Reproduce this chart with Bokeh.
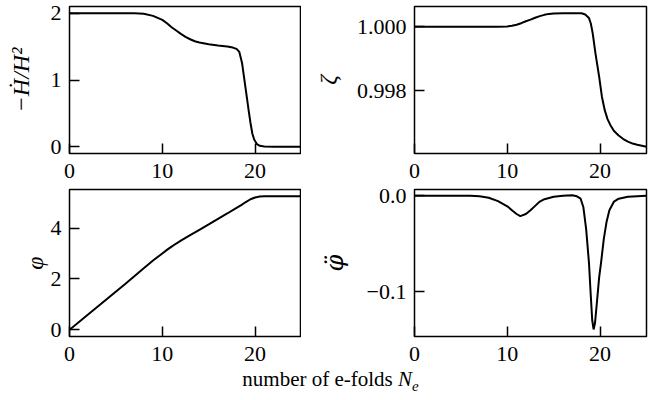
from bokeh.plotting import figure
from bokeh.layouts import row, column
from bokeh.models import Range1d, FixedTicker, Div
from bokeh.embed import file_html
from bokeh.resources import INLINE

# ---------------- data ----------------
N_eps = [0, 6, 7, 8, 9, 10, 10.5, 11, 11.5, 12, 12.5, 13, 13.5, 14, 15, 16, 17,
         17.6, 18.0, 18.3, 18.6, 18.9, 19.1, 19.3, 19.5, 19.7, 19.9, 20.2, 20.5,
         21, 22, 25]
eps = [2.0, 2.0, 1.998, 1.99, 1.96, 1.9, 1.85, 1.79, 1.74, 1.69, 1.645, 1.61,
       1.58, 1.56, 1.535, 1.515, 1.5, 1.485, 1.465, 1.42, 1.25, 0.95, 0.75, 0.55,
       0.36, 0.2, 0.11, 0.04, 0.015, 0.004, 0.0, 0.0]

N_zeta = [0, 9, 10, 10.5, 11, 11.5, 12, 12.5, 13, 13.5, 14, 14.5, 15, 16, 17,
          18.0, 18.4, 18.8, 19.0, 19.2, 19.5, 19.9, 20.2, 20.5, 20.8, 21.1, 21.5,
          22, 22.5, 23, 23.5, 24, 25]
zeta = [1.0, 1.0, 1.00001, 1.00003, 1.00006, 1.00011, 1.00017, 1.00022, 1.00028,
        1.00033, 1.00037, 1.0004, 1.00041, 1.00042, 1.00042, 1.00042, 1.00038,
        1.00027, 1.0001, 0.9998, 0.99917, 0.99844, 0.99781, 0.9974, 0.99712,
        0.99694, 0.99675, 0.99661, 0.9965, 0.99642, 0.99636, 0.99632, 0.99626]

N_phi = [0, 2, 4, 6, 8, 9, 10, 10.5, 11, 11.5, 12, 13, 14, 15, 16, 17, 18, 18.5,
         19, 19.5, 20, 20.5, 21, 22, 25]
phi = [0, 0.6, 1.2, 1.8, 2.42, 2.72, 3.0, 3.14, 3.27, 3.39, 3.5, 3.72, 3.93,
       4.14, 4.36, 4.57, 4.79, 4.9, 5.02, 5.13, 5.2, 5.235, 5.248, 5.25, 5.25]

N_ddphi = [0, 6, 7, 8, 9, 10, 10.5, 11, 11.4, 12, 12.5, 13, 13.5, 14, 15, 16, 17,
           17.5, 17.9, 18.2, 18.5, 18.8, 19.0, 19.15, 19.3, 19.45, 19.65, 19.9,
           20.1, 20.4, 20.7, 21.0, 21.5, 22, 23, 25]
ddphi = [0, 0, -0.0005, -0.002, -0.0055, -0.011, -0.015, -0.019, -0.0212, -0.019,
         -0.015, -0.0105, -0.006, -0.0035, -0.001, 0.0, 0.0005, -0.0005, -0.003,
         -0.012, -0.035, -0.07, -0.105, -0.13, -0.1396, -0.133, -0.112, -0.085,
         -0.07, -0.045, -0.027, -0.015, -0.006, -0.003, -0.001, 0.0]

x_ticks = [0, 10, 20]
eps_ticks = [0, 1, 2]
zeta_ticks = [0.998, 1.000]
zeta_labels = {0.998: "0.998", 1.0: "1.000"}
phi_ticks = [0, 2, 4]
ddphi_ticks = [-0.1, 0.0]
ddphi_labels = {-0.1: "\u22120.1", 0.0: "0.0"}

FONT = "Liberation Serif"
TICK_SIZE = "22px"
LABEL_SIZE = "24px"


def make(ylabel, yr, yticks, left, right, top, bottom, standoff, overrides=None,
         label_font=FONT):
    p = figure(frame_width=232, frame_height=147, output_backend="svg",
               toolbar_location=None, x_range=Range1d(0, 25), y_range=Range1d(*yr),
               min_border_left=left, min_border_right=right,
               min_border_top=top, min_border_bottom=bottom)
    p.background_fill_color = "white"
    p.border_fill_color = "white"
    p.border_fill_alpha = 0
    p.outline_line_color = "black"
    p.outline_line_width = 1.5
    p.grid.visible = False
    p.xaxis.ticker = FixedTicker(ticks=x_ticks)
    p.yaxis.ticker = FixedTicker(ticks=yticks)
    if overrides:
        p.yaxis.major_label_overrides = overrides
    for ax in p.axis:
        ax.axis_line_color = None
        ax.major_tick_in = 10
        ax.major_tick_out = 0
        ax.major_tick_line_width = 1.5
        ax.major_tick_line_color = "black"
        ax.minor_tick_line_color = None
        ax.major_label_text_font = FONT
        ax.major_label_text_font_size = TICK_SIZE
        ax.major_label_text_color = "black"
    p.xaxis.major_label_standoff = 10
    p.yaxis.major_label_standoff = 8
    p.yaxis.axis_label = ylabel
    p.yaxis.axis_label_text_font = label_font
    p.yaxis.axis_label_text_font_size = LABEL_SIZE
    p.yaxis.axis_label_text_font_style = "italic"
    p.yaxis.axis_label_text_color = "black"
    p.yaxis.axis_label_standoff = standoff
    return p


p1 = make("\u2212H\u0307/H\u00b2", (-0.1, 2.1), eps_ticks, 69, 0, 6, 38, 14)
p1.line(N_eps, eps, line_color="black", line_width=2)

p2 = make("\u03b6", (0.99605, 1.00063), zeta_ticks, 113, 7, 6, 38, 13, zeta_labels)
p2.line(N_zeta, zeta, line_color="black", line_width=2)

p3 = make("\u03c6", (-0.2625, 5.5125), phi_ticks, 69, 0, 7, 30, 0)
p3.line(N_phi, phi, line_color="black", line_width=2)

p4 = make("\u03c6\u0308", (-0.147, 0.0066), ddphi_ticks, 113, 7, 7, 30, 15,
          ddphi_labels, label_font="DejaVu Serif")
p4.line(N_ddphi, ddphi, line_color="black", line_width=2)

xlabel = Div(text="number of e-folds <i>N<sub style='font-size:15px'>e</sub></i>",
             width=645, height=24,
             styles={"font-family": FONT, "font-size": "21px", "text-align": "center",
                     "line-height": "16px", "color": "black", "width": "645px",
                     "margin-left": "8px"})

layout = column(row(p1, p2), row(p3, p4, margin=(-9, 0, 0, 0)), xlabel,
                margin=(0, 0, 0, 0))

open("out.html", "w").write(file_html(layout, INLINE))
